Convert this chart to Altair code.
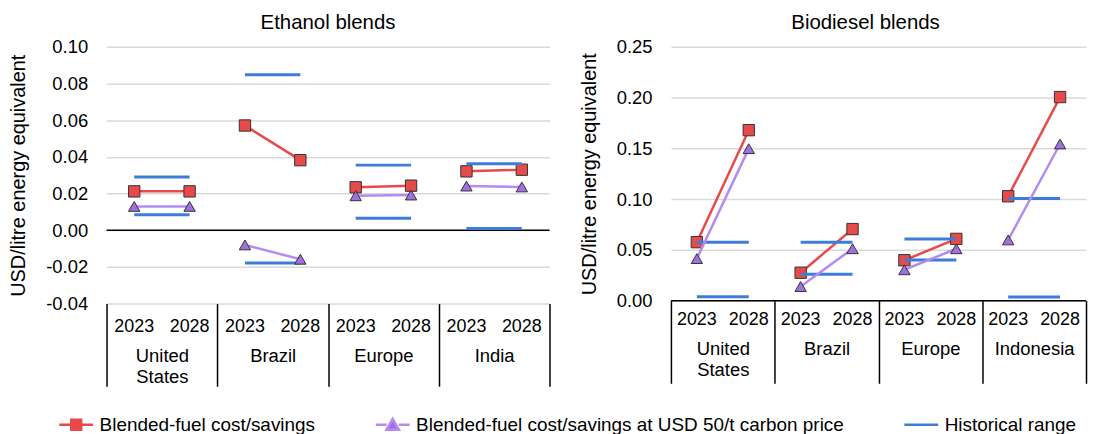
import altair as alt
import pandas as pd

years = ["2023", "2028"]

# Ethanol blends
eth_countries = ["United States", "Brazil", "Europe", "India"]
eth_cost_2023 = [0.0212, 0.0571, 0.0234, 0.0321]
eth_cost_2028 = [0.0212, 0.0382, 0.0243, 0.0330]
eth_carbon_2023 = [0.0130, -0.0080, 0.0188, 0.0241]
eth_carbon_2028 = [0.0130, -0.0158, 0.0192, 0.0236]
eth_hist_high = [0.0290, 0.0848, 0.0355, 0.0362]
eth_hist_low = [0.0085, -0.0178, 0.0065, 0.0009]
eth_ticks = [-0.04, -0.02, 0.0, 0.02, 0.04, 0.06, 0.08, 0.10]

# Biodiesel blends
bio_countries = ["United States", "Brazil", "Europe", "Indonesia"]
bio_cost_2023 = [0.0576, 0.0275, 0.0398, 0.1028]
bio_cost_2028 = [0.1679, 0.0705, 0.0608, 0.2005]
bio_carbon_2023 = [0.0414, 0.0139, 0.0304, 0.0598]
bio_carbon_2028 = [0.1497, 0.0511, 0.0511, 0.1543]
bio_hist_high = [0.0576, 0.0576, 0.0608, 0.1006]
bio_hist_low = [0.0039, 0.0259, 0.0401, 0.0036]
bio_ticks = [0.0, 0.05, 0.10, 0.15, 0.20, 0.25]

series_names = [
    "Blended-fuel cost/savings",
    "Blended-fuel cost/savings at USD 50/t carbon price",
    "Historical range",
]
RED = "#E84A4A"
PURPLE_LINE = "#B48CF0"
PURPLE_FILL = "#A070E0"
BLUE = "#3D7DD8"
series_stroke = [RED, PURPLE_LINE, BLUE]
series_fill = [RED, PURPLE_FILL, BLUE]
series_shape = [
    "M-1.7,0H-0.5M0.5,0H1.7M-0.5,-0.5H0.5V0.5H-0.5Z",
    "M-1.7,0H-0.6M0.6,0H1.7M0,-0.6L0.62,0.5H-0.62Z",
    "M-1.7,0H1.7",
]
FONT = "Liberation Sans"


def pair_table(countries, v2023, v2028, group_suffix=""):
    rows = []
    for c, a, b in zip(countries, v2023, v2028):
        rows.append({"country": c, "grp": c + group_suffix, "key": c + "|" + years[0], "value": a})
        rows.append({"country": c, "grp": c + group_suffix, "key": c + "|" + years[1], "value": b})
    return pd.DataFrame(rows)


def panel(title, countries, c23, c28, k23, k28, hi, lo, ydomain, yticks,
          W, H, title_offset, title_dx, year_pad, country_pad, tick_len,
          with_legend):
    keys = [c + "|" + y for c in countries for y in years]
    xscale = alt.Scale(type="band", domain=keys, paddingInner=0, paddingOuter=0)
    xaxis = alt.Axis(orient="bottom", title=None, domain=False, ticks=False, grid=False,
                     labelAngle=0, labelExpr="split(datum.value, '|')[1]",
                     labelFontSize=18, labelPadding=year_pad, labelColor="black",
                     labelFont=FONT)
    yscale = alt.Scale(domain=ydomain, nice=False, zero=False)
    yaxis = alt.Axis(values=yticks, title="USD/litre energy equivalent",
                     labelExpr="replace(format(datum.value, '.2f'), '\u2212', '-')",
                     labelFontSize=18.5, labelFont=FONT, labelColor="black",
                     titleFontSize=20, titleFont=FONT, titleFontWeight="normal",
                     titleColor="black", titlePadding=17, labelPadding=19,
                     ticks=False, domain=False, grid=True, gridColor="#d9d9d9",
                     gridWidth=1.5)

    def X():
        return alt.X("key:N", scale=xscale, axis=xaxis)

    def Y():
        return alt.Y("value:Q", scale=yscale, axis=yaxis)

    cost = pair_table(countries, c23, c28)
    carbon = pair_table(countries, k23, k28)
    hist = pd.concat([pair_table(countries, hi, hi, "-high"),
                      pair_table(countries, lo, lo, "-low")], ignore_index=True)
    zero = pd.DataFrame({"value": [0.0]})

    zero_rule = alt.Chart(zero).mark_rule(color="black", strokeWidth=1.5).encode(y=Y())
    cost_line = alt.Chart(cost).mark_line(color=RED, strokeWidth=2.5).encode(
        x=X(), y=Y(), detail="grp:N")
    cost_pts = alt.Chart(cost).mark_point(shape="square", filled=True, fill=RED,
                                          stroke="#333333", strokeWidth=1, size=130,
                                          opacity=1).encode(x=X(), y=Y())
    hist_line = alt.Chart(hist).mark_line(color=BLUE, strokeWidth=3).encode(
        x=X(), y=Y(), detail="grp:N")
    carbon_line = alt.Chart(carbon).mark_line(color=PURPLE_LINE, strokeWidth=2.5).encode(
        x=X(), y=Y(), detail="grp:N")
    carbon_pts = alt.Chart(carbon).mark_point(shape="triangle-up", filled=True,
                                              fill=PURPLE_FILL, stroke="#333333",
                                              strokeWidth=1, size=130,
                                              opacity=1).encode(x=X(), y=Y())
    layers = [zero_rule, cost_line, cost_pts, hist_line, carbon_line, carbon_pts]

    if with_legend:
        leg = alt.Legend(title=None, orient="none", direction="horizontal",
                         legendX=-42, legendY=368, labelFontSize=19, labelFont=FONT,
                         labelColor="black", labelLimit=1000, symbolSize=400,
                         symbolStrokeWidth=2.5, labelOffset=12, columnPadding=55)
        leg_df = pd.DataFrame({"series": series_names})
        legend_layer = alt.Chart(leg_df).transform_filter("false").mark_point(
            filled=True, opacity=1, size=400, strokeWidth=2.5).encode(
            fill=alt.Fill("series:N", scale=alt.Scale(domain=series_names, range=series_fill), legend=leg),
            stroke=alt.Stroke("series:N", scale=alt.Scale(domain=series_names, range=series_stroke), legend=leg),
            shape=alt.Shape("series:N", scale=alt.Scale(domain=series_names, range=series_shape), legend=leg),
        )
        layers.append(legend_layer)

    inner = alt.layer(*layers)

    cdf = pd.DataFrame({"country": countries})
    country_layer = alt.Chart(cdf).mark_point(opacity=0).encode(
        x=alt.X("country:N",
                scale=alt.Scale(type="band", domain=countries, paddingInner=0, paddingOuter=0),
                axis=alt.Axis(orient="bottom", title=None, domain=False, grid=False,
                              ticks=True, tickBand="extent", tickSize=tick_len,
                              tickColor="black", tickWidth=1.5, labelAngle=0,
                              labelFontSize=18.5, labelFont=FONT, labelColor="black",
                              labelPadding=country_pad, labelBaseline="top",
                              labelLineHeight=21,
                              labelExpr="datum.value == 'United States' ? ['United', 'States'] : datum.value"))
    )

    return alt.layer(inner, country_layer).resolve_scale(x="independent").properties(
        width=W, height=H,
        title=alt.TitleParams(title, fontSize=20.5, font=FONT, fontWeight="normal",
                              color="black", offset=title_offset, dx=title_dx,
                              anchor="middle"))


left = panel("Ethanol blends", eth_countries, eth_cost_2023, eth_cost_2028,
             eth_carbon_2023, eth_carbon_2028, eth_hist_high, eth_hist_low,
             [-0.04, 0.10], eth_ticks, 445, 258, 4, 0, 14, -40, 83, True)
right = panel("Biodiesel blends", bio_countries, bio_cost_2023, bio_cost_2028,
              bio_carbon_2023, bio_carbon_2028, bio_hist_high, bio_hist_low,
              [0.0, 0.25], bio_ticks, 417, 255, 4, -13, 10, -44, 83, False)

chart = alt.hconcat(left, right, spacing=28).properties(
    padding={"left": 0, "top": 4, "right": 2, "bottom": 0}
).configure(font=FONT).configure_view(stroke=None)

chart.save("out.html", embed_options={"renderer": "svg", "actions": False})
